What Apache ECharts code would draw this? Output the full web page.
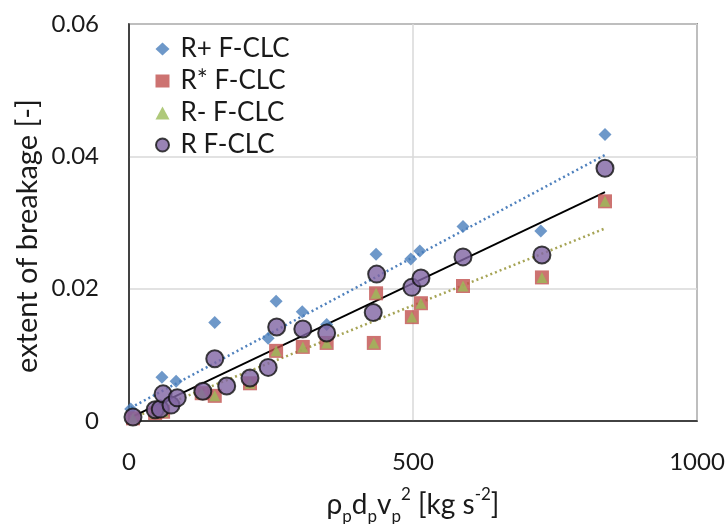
<!DOCTYPE html>
<html>
<head>
<meta charset="utf-8">
<script src="https://cdn.jsdelivr.net/npm/echarts@6/dist/echarts.min.js"></script>
<style>html,body{margin:0;padding:0;background:#fff}#c{width:725px;height:524px}</style>
</head>
<body>
<div id="c"></div>
<script>
// ---- data ----
var seriesNames = ['R+ F-CLC', 'R* F-CLC', 'R- F-CLC', 'R F-CLC'];
var xTicks = [0, 500, 1000];
var yTicks = [0, 0.02, 0.04, 0.06];

var rPlus = [
  [3, 0.0018], [58, 0.0066], [83, 0.0060], [151, 0.0149], [245, 0.0125],
  [259, 0.0181], [305, 0.0165], [348, 0.0146], [435, 0.0252], [496, 0.0245],
  [512, 0.0257], [588, 0.0294], [725, 0.0287], [838, 0.0433]
];
var rStar = [
  [7, 0.0004], [46, 0.0012], [60, 0.0014], [128, 0.0042], [151, 0.0038],
  [213, 0.0057], [259, 0.0106], [306, 0.0112], [348, 0.0118], [431, 0.0118],
  [435, 0.0193], [498, 0.0157], [514, 0.0178], [588, 0.0204], [727, 0.0217],
  [838, 0.0332]
];
var rMinus = [
  [7, 0.0004], [46, 0.0012], [60, 0.0014], [128, 0.0042], [151, 0.0038],
  [213, 0.0057], [259, 0.0106], [306, 0.0112], [348, 0.0118], [431, 0.0118],
  [435, 0.0193], [498, 0.0157], [514, 0.0178], [588, 0.0204], [727, 0.0217],
  [838, 0.0332]
];
var rBase = [
  [7, 0.0006], [46, 0.0017], [55, 0.0018], [60, 0.0041], [74, 0.0024],
  [85, 0.0035], [130, 0.0045], [151, 0.0094], [172, 0.0053], [213, 0.0065],
  [245, 0.0081], [260, 0.0142], [306, 0.0139], [348, 0.0133], [430, 0.0164],
  [436, 0.0222], [498, 0.0202], [514, 0.0216], [588, 0.0248], [727, 0.0251],
  [838, 0.0382]
];
// linear trend lines (endpoints)
var trendPlus = [[3, 0.0020], [838, 0.0402]];
var trendMinus = [[7, 0.0005], [838, 0.0291]];
var trendBase = [[7, 0.0007], [838, 0.0346]];

// ---- chart ----
var FONT = 'Lato, "Open Sans", sans-serif';
var chart = echarts.init(document.getElementById('c'), null, {renderer: 'canvas'});
var option = {
  backgroundColor: '#fff',
  animation: false,
  textStyle: {fontFamily: FONT},
  grid: {left: 129, right: 28, top: 24, bottom: 103, show: true, borderColor: '#404040', borderWidth: 1.5,
    containLabel: false, outerBoundsMode: 'none'},
  legend: {
    data: seriesNames,
    orient: 'vertical',
    left: 150, top: 28,
    itemGap: 0,
    itemWidth: 14, itemHeight: 13,
    textStyle: {fontFamily: FONT, fontSize: 26, color: '#1a1a1a', lineHeight: 32, padding: [0, 0, 0, 6]}
  },
  xAxis: {
    type: 'value', min: xTicks[0], max: xTicks[xTicks.length - 1], interval: 500,
    axisLine: {show: true, onZero: false, lineStyle: {color: '#1a1a1a', width: 1.5}},
    axisTick: {show: false},
    splitLine: {show: true, lineStyle: {color: '#d9d9d9', width: 1.5}},
    axisLabel: {fontFamily: FONT, fontSize: 24, color: '#1a1a1a', margin: 29,
      formatter: function (v) { return String(v); }},
    name: 'ρ{s|p}d{s|p}v{s|p}{u|2} [kg s{u|-2}]',
    nameLocation: 'middle', nameGap: 68,
    nameTextStyle: {
      fontFamily: FONT, fontSize: 28, color: '#1a1a1a', lineHeight: 32,
      rich: {
        s: {fontFamily: FONT, fontSize: 17, color: '#1a1a1a', verticalAlign: 'bottom', lineHeight: 17, padding: [0, 0, -4, 0]},
        u: {fontFamily: FONT, fontSize: 17, color: '#1a1a1a', verticalAlign: 'top', lineHeight: 17, padding: [-3, 0, 0, 0]}
      }
    }
  },
  yAxis: {
    type: 'value', min: yTicks[0], max: yTicks[yTicks.length - 1], interval: 0.02,
    axisLine: {show: true, onZero: false, lineStyle: {color: '#1a1a1a', width: 1.5}},
    axisTick: {show: false},
    splitLine: {show: true, lineStyle: {color: '#d9d9d9', width: 1.5}},
    axisLabel: {fontFamily: FONT, fontSize: 24, color: '#1a1a1a', margin: 30,
      formatter: function (v) { return v === 0 ? '0' : v.toFixed(2); }}
  },
  graphic: [{
    type: 'text', x: 28, y: 236, rotation: Math.PI / 2,
    style: {text: 'extent of breakage [-]', font: '29px ' + FONT, fill: '#1a1a1a', align: 'center', verticalAlign: 'middle'}
  }],
  series: [
    {type: 'line', data: trendPlus, showSymbol: false, symbol: 'none', silent: true, z: 1,
      lineStyle: {color: '#4f81bd', width: 2.5, type: [2, 3]}},
    {type: 'line', data: trendMinus, showSymbol: false, symbol: 'none', silent: true, z: 1,
      lineStyle: {color: '#a6a455', width: 2.5, type: [2, 3]}},
    {type: 'line', data: trendBase, showSymbol: false, symbol: 'none', silent: true, z: 1,
      lineStyle: {color: '#000', width: 1.8}},
    {name: seriesNames[0], type: 'scatter', data: rPlus, symbol: 'diamond', symbolSize: 13, z: 3,
      itemStyle: {color: '#4a7ebb'}},
    {name: seriesNames[1], type: 'scatter', data: rStar, symbol: 'rect', symbolSize: 14, z: 3,
      itemStyle: {color: '#c0504d'}},
    {name: seriesNames[2], type: 'scatter', data: rMinus, symbol: 'triangle', symbolSize: 11, z: 4,
      itemStyle: {color: '#9bbb59'}},
    {name: seriesNames[3], type: 'scatter', data: rBase, symbol: 'circle', symbolSize: 17, z: 5,
      itemStyle: {color: '#8064a2', borderColor: '#111', borderWidth: 2}}
  ]
};
chart.setOption(option);
</script>
</body>
</html>
